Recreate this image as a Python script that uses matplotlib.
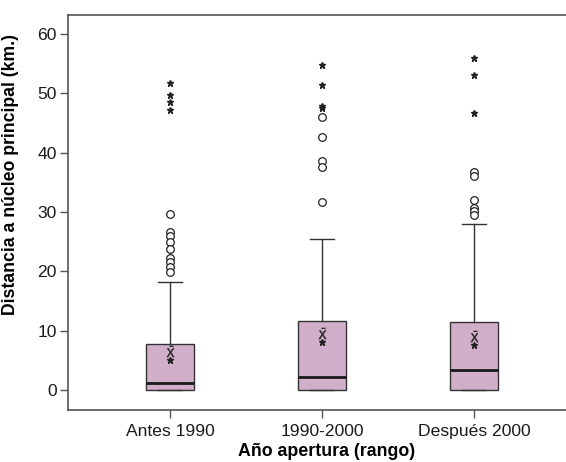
import matplotlib
matplotlib.use('Agg')
import matplotlib.pyplot as plt

plt.rcParams['font.family'] = ['Liberation Sans', 'DejaVu Sans']

categories = ['Antes 1990', '1990-2000', 'Después 2000']
q1 = [0.0, 0.0, 0.0]
med = [1.1, 2.1, 3.3]
q3 = [7.7, 11.6, 11.4]
whislo = [0.0, 0.0, 0.0]
whishi = [18.1, 25.4, 28.0]
means = [6.6, 9.6, 9.0]
inner_star = [5.1, 8.0, 7.5]

circles = [
    [29.6, 26.6, 25.9, 25.0, 23.7, 22.2, 21.6, 20.7, 19.8],
    [46.0, 42.7, 38.6, 37.5, 31.6],
    [36.8, 36.0, 32.0, 30.6, 30.1, 29.5],
]
stars = [
    [51.8, 49.7, 48.6, 47.2],
    [54.8, 51.4, 47.8, 47.5],
    [56.0, 53.0, 46.7],
]

fig = plt.figure(figsize=(5.66, 4.62), dpi=100)
ax = fig.add_axes([0.120, 0.1126, 0.88, 0.855])

stats = []
for i, lab in enumerate(categories):
    stats.append(dict(label=lab, q1=q1[i], med=med[i], q3=q3[i],
                      whislo=whislo[i], whishi=whishi[i], fliers=[]))

pos = [1, 2, 3]
ax.bxp(stats, positions=pos, widths=0.31, patch_artist=True, showfliers=False,
       boxprops=dict(facecolor='#d1afcb', edgecolor='#333333', linewidth=1.0),
       medianprops=dict(color='#1a1a1a', linewidth=2.0),
       whiskerprops=dict(color='#333333', linewidth=1.0),
       capprops=dict(color='#333333', linewidth=1.0),
       capwidths=0.16)

for i, p in enumerate(pos):
    ax.plot([p] * len(circles[i]), circles[i], linestyle='none', marker='o',
            markersize=5.5, markerfacecolor='white', markeredgecolor='#222222',
            markeredgewidth=0.9)
    ax.plot([p] * len(stars[i]), stars[i], linestyle='none', marker='*',
            markersize=4.5, color='#222222')
    ax.plot(p, means[i], linestyle='none', marker=r'$\bar{\mathsf{X}}$',
            markersize=8, color='#222222', markeredgewidth=0.3)
    ax.plot(p, inner_star[i], linestyle='none', marker='*', markersize=4.5,
            color='#222222')

ax.set_xlim(0.329, 3.605)
ax.set_ylim(-3.4, 63.2)
ax.set_yticks([0, 10, 20, 30, 40, 50, 60])
ax.set_xticks(pos)
ax.set_xticklabels(categories)

for s in ['left', 'bottom', 'top']:
    ax.spines[s].set_color('#555555')
    ax.spines[s].set_linewidth(1.2)
ax.spines['right'].set_visible(False)
ax.tick_params(axis='both', direction='out', length=6, width=1.0,
               color='#555555', labelsize=12.6, labelcolor='#1a1a1a')
ax.tick_params(axis='y', pad=2)
ax.tick_params(axis='x', pad=4)

ax.set_ylabel('Distancia a núcleo principal (km.)', fontsize=12.7,
              fontweight='bold')
ax.set_xlabel('Año apertura (rango)', fontsize=12.8, fontweight='bold')
ax.yaxis.set_label_coords(-0.098, 0.597)
ax.xaxis.set_label_coords(0.52, -0.084)

fig.savefig('out.png', dpi=100)
